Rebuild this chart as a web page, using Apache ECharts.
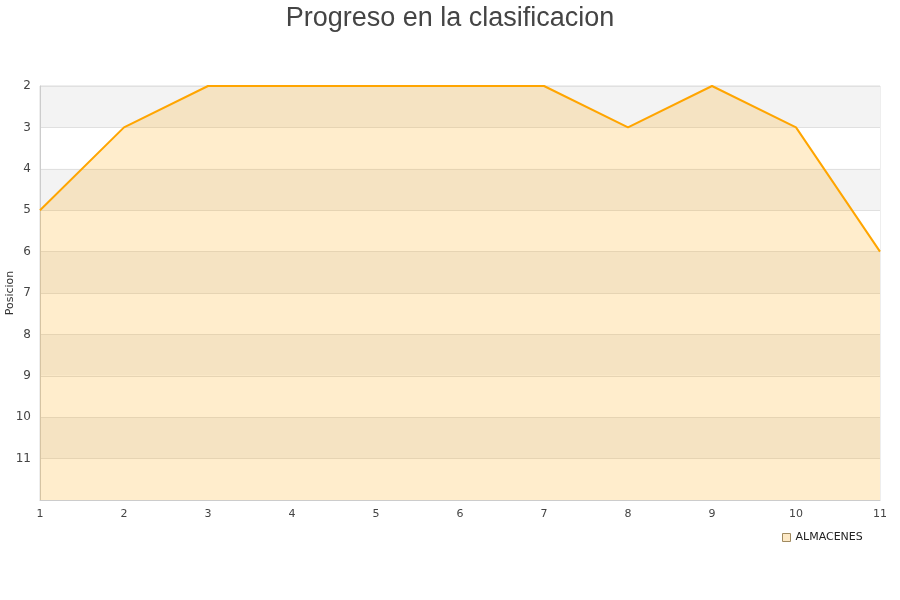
<!DOCTYPE html>
<html><head><meta charset="utf-8">
<script src="https://cdn.jsdelivr.net/npm/echarts@6/dist/echarts.min.js"></script>
<style>html,body{margin:0;padding:0;background:#fff}#c{width:900px;height:600px}</style>
</head><body><div id="c"></div>
<script>
const categories = ['1','2','3','4','5','6','7','8','9','10','11'];
const posiciones = [5,3,2,2,2,2,2,3,2,3,6];
const seriesName = 'ALMACENES';
const chart = echarts.init(document.getElementById('c'), null, {renderer:'canvas'});
chart.setOption({
  animation:false,
  title:{text:'Progreso en la clasificacion', left:'center', top:0,
    textStyle:{fontFamily:'Liberation Sans, Arial, sans-serif', fontSize:27, fontWeight:'normal', color:'#444'}},
  grid:{left:40, right:20, top:86, bottom:100, show:true, borderColor:'#ddd', borderWidth:1, backgroundColor:'transparent',
    containLabel:false, outerBoundsMode:'none'},
  legend:{left:777, top:527, icon:'rect', itemWidth:8, itemHeight:8, itemGap:5,
    textStyle:{fontFamily:'DejaVu Sans, sans-serif', fontSize:11, color:'#222'},
    data:[{name:seriesName, itemStyle:{color:'#fde9c6', borderColor:'#a08a60', borderWidth:1}}]},
  xAxis:{type:'category', data:categories, boundaryGap:false,
    axisLine:{lineStyle:{color:'#ccc'}}, axisTick:{show:false},
    axisLabel:{color:'#444', fontSize:11, fontFamily:'DejaVu Sans, sans-serif', margin:9},
    splitLine:{show:false}},
  yAxis:{type:'value', inverse:true, min:2, max:12, interval:1,
    name:'Posicion', nameLocation:'middle', nameGap:24, nameMoveOverlap:false,
    nameTextStyle:{color:'#333', fontSize:11, fontFamily:'DejaVu Sans, sans-serif'},
    axisLine:{show:true, lineStyle:{color:'#ccc'}}, axisTick:{show:false},
    axisLabel:{color:'#444', fontSize:12, fontFamily:'DejaVu Sans, sans-serif', margin:9,
      formatter:v=> v===12 ? '' : String(v)},
    splitLine:{show:true, lineStyle:{color:'#e0e0e0'}},
    splitArea:{show:true, areaStyle:{color:['#f3f3f3','#ffffff']}}},
  series:[{name:seriesName, type:'line', data:posiciones, showSymbol:false, symbol:'none',
    lineStyle:{color:'#ffa500', width:2}, itemStyle:{color:'#ffa500'},
    areaStyle:{color:'#ffa500', opacity:0.2, origin:'end'}}]
});
</script></body></html>
